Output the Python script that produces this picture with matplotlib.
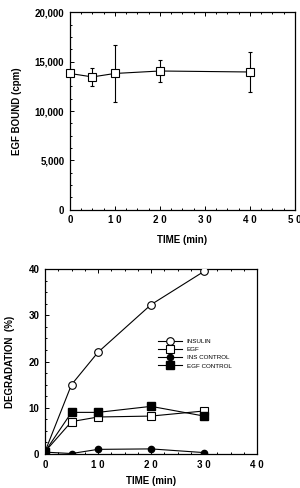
import matplotlib
matplotlib.use("Agg")
import matplotlib.pyplot as plt
from matplotlib.ticker import MultipleLocator

plt.rcParams['font.family'] = ['Liberation Sans', 'DejaVu Sans']

# Top panel: EGF bound
top_time = [0, 5, 10, 20, 40]
top_bound = [13800, 13450, 13800, 14050, 13950]
top_err = [0, 950, 2900, 1100, 2000]
top_xticks = [0, 10, 20, 30, 40, 50]
top_xlabels = ["0", "1 0", "2 0", "3 0", "4 0", "5 0"]
top_yticks = [0, 5000, 10000, 15000, 20000]
top_ylabels = ["0", "5,000", "10,000", "15,000", "20,000"]

# Bottom panel: degradation
deg_time = [0, 5, 10, 20, 30]
insulin = [0.5, 15, 22, 32.3, 39.5]
egf = [0.5, 7, 8, 8.2, 9.3]
ins_control = [0.4, 0.1, 1.0, 1.1, 0.3]
egf_control = [0.5, 9, 9, 10.3, 8.2]
bot_xticks = [0, 10, 20, 30, 40]
bot_xlabels = ["0", "1 0", "2 0", "3 0", "4 0"]
bot_yticks = [0, 10, 20, 30, 40]

fig = plt.figure(figsize=(3.0, 4.88), dpi=100)

ax1 = fig.add_axes([0.233, 0.570, 0.75, 0.405])
ax1.errorbar(top_time, top_bound, yerr=top_err, color='black', lw=0.8,
             marker='s', ms=5.5, mfc='white', mec='black', mew=0.8,
             capsize=1.5, elinewidth=0.8, clip_on=False, zorder=3)
ax1.set_xlim(0, 50)
ax1.set_ylim(0, 20000)
ax1.set_xticks(top_xticks)
ax1.set_xticklabels(top_xlabels)
ax1.set_yticks(top_yticks)
ax1.set_yticklabels(top_ylabels)
ax1.xaxis.set_minor_locator(MultipleLocator(2.5))
ax1.yaxis.set_minor_locator(MultipleLocator(1250))
ax1.set_xlabel("TIME (min)", fontsize=7, fontweight='bold', labelpad=7)
ax1.set_ylabel("EGF BOUND (cpm)", fontsize=7, fontweight='bold', labelpad=9)

ax2 = fig.add_axes([0.15, 0.0697, 0.707, 0.379])
ax2.plot(deg_time, insulin, color='black', lw=0.8, marker='o', ms=5.5,
         mfc='white', mec='black', mew=0.8, label='INSULIN', zorder=3)
ax2.plot(deg_time, egf, color='black', lw=0.8, marker='s', ms=5.5,
         mfc='white', mec='black', mew=0.8, label='EGF', zorder=3)
ax2.plot(deg_time, ins_control, color='black', lw=0.8, marker='o', ms=4.5,
         mfc='black', mec='black', label='INS CONTROL', zorder=3)
ax2.plot(deg_time, egf_control, color='black', lw=0.8, marker='s', ms=5.5,
         mfc='black', mec='black', label='EGF CONTROL', zorder=3)
ax2.set_xlim(0, 40)
ax2.set_ylim(0, 40)
ax2.set_xticks(bot_xticks)
ax2.set_xticklabels(bot_xlabels)
ax2.set_yticks(bot_yticks)
ax2.xaxis.set_minor_locator(MultipleLocator(2.5))
ax2.yaxis.set_minor_locator(MultipleLocator(2.5))
ax2.set_xlabel("TIME (min)", fontsize=7, fontweight='bold', labelpad=5)
ax2.set_ylabel("DEGRADATION  (%)", fontsize=7, fontweight='bold', labelpad=10)
leg = ax2.legend(loc='upper left', bbox_to_anchor=(0.52, 0.64), frameon=False,
                 fontsize=4.5, handlelength=3.7, labelspacing=0.45,
                 borderpad=0, handletextpad=0.8)

for ax in (ax1, ax2):
    for s in ax.spines.values():
        s.set_linewidth(0.9)
    ax.tick_params(which='both', direction='in', top=True, right=False,
                   labelsize=7, width=0.7)
    ax.tick_params(which='major', length=3, pad=4)
    ax.tick_params(which='minor', length=1.5)
    for lbl in ax.get_xticklabels() + ax.get_yticklabels():
        lbl.set_fontweight('bold')

fig.savefig("out.png", dpi=100)
